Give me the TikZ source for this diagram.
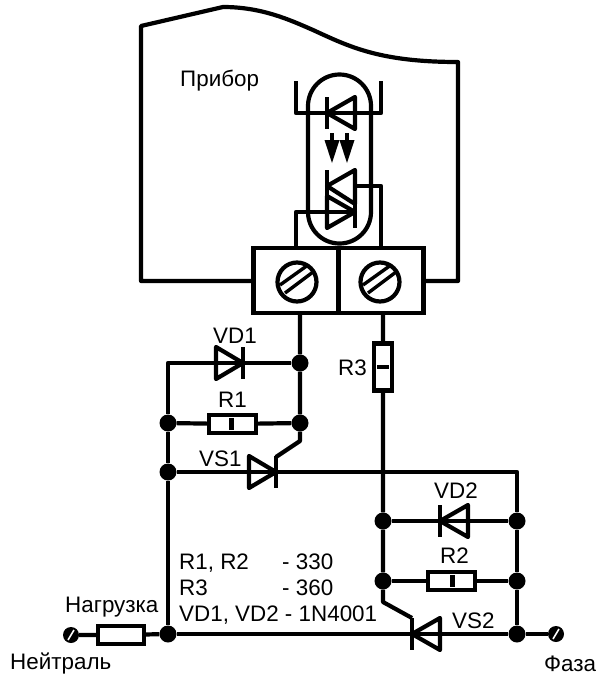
\documentclass[tikz,border=0pt]{standalone}
\usepackage{fontspec}
\setmainfont{Liberation Sans}
\tikzset{
  wire/.style={line width=4.2pt, line join=round},
  dot/.style={circle, fill=black, inner sep=0pt, minimum size=17pt},
  res/.style={draw, line width=4.2pt, rectangle, fill=white, inner sep=0pt, outer sep=0pt},
  screw/.style={draw, line width=4.2pt, circle, inner sep=0pt, outer sep=0pt, minimum size=39pt},
  clamp/.style={draw, line width=4.2pt, rectangle, inner sep=0pt, outer sep=0pt, minimum width=85pt, minimum height=65pt},
  lamp/.style={circle, fill=black, inner sep=0pt, minimum size=16pt},
  lbl/.style={anchor=base west, inner sep=0pt, font=\fontsize{22.4}{26}\selectfont}
}
\begin{document}
\begin{tikzpicture}[x=1pt,y=-1pt]
\useasboundingbox (0,0) rectangle (596,675);
% Define the diode shapes: tip, then bar and triangle
\def\diodeR#1{\draw[wire] #1 ++(0,-16) -- ++(0,32); \draw[wire] #1 -- ++(-27,-16) -- ++(0,32) -- cycle;}
\def\diodeL#1{\draw[wire] #1 ++(0,-16) -- ++(0,32); \draw[wire] #1 -- ++(28,-16) -- ++(0,32) -- cycle;}
% Device outline
\draw[wire] (253,281) -- (141,281) -- (141,26) -- (223,7)
  .. controls (262,7) and (290,20) .. (313,30)
  .. controls (350,47) and (380,62) .. (458,62) -- (458,281) -- (424,281);
% Terminal block
\node[clamp] (tb1) at (296,280.5) {};
\node[clamp] (tb2) at (381,280.5) {};
\node[screw] (s1) at (297,282) {};
\node[screw] (s2) at (380,282) {};
\foreach \s in {s1,s2} {
  \draw[line width=3.4pt] (\s) ++(-17,3) -- ++(28,-20);
  \draw[line width=3.4pt] (\s) ++(-12,11) -- ++(28,-21);
}
% Optocoupler
\draw[wire] (308,106) arc (180:360:31.5) -- (371,212) arc (0:180:31.5) -- cycle;
\draw[wire] (296,81) -- (296,113) -- (381,113) -- (381,81);
\diodeL{(327,113)}
\foreach \x in {332,347} {
  \draw[wire] (\x,133) -- (\x,142);
  \fill (\x-7.5,140) -- (\x+7.5,140) -- (\x,163) -- cycle;
}
\draw[wire] (327,170) -- (327,228);
\draw[wire] (355,170) -- (355,228);
\draw[wire] (327,186) -- (355,170) -- (355,204) -- cycle;
\draw[wire] (355,212) -- (327,196) -- (327,228) -- cycle;
\draw[wire] (355,186) -- (381,186) -- (381,248);
\draw[wire] (355,212) -- (296,212) -- (296,248);
% Junctions
\node[dot] (j1) at (300,363) {};
\node[dot] (j2) at (300,423) {};
\node[dot] (j3) at (168,423) {};
\node[dot] (j4) at (168,472) {};
\node[dot] (j5) at (168,634) {};
\node[dot] (j6) at (383,521) {};
\node[dot] (j7) at (383,581) {};
\node[dot] (j8) at (517,521) {};
\node[dot] (j9) at (517,581) {};
\node[dot] (j10) at (517,634) {};
\node[lamp] (t1) at (71,635) {};
\node[lamp] (t2) at (556,634) {};
\draw[white, line width=1.6pt] (t1) ++(-3,5) -- ++(6,-10);
\draw[white, line width=1.6pt] (t2) ++(-3,5) -- ++(6,-10);
% Resistors
\node[res, minimum width=47pt, minimum height=18pt] (r1) at (232.5,424) {};
\node[res, minimum width=47pt, minimum height=18pt] (r2) at (451.5,581) {};
\node[res, minimum width=18pt, minimum height=47pt] (r3) at (383,367) {};
\node[res, minimum width=46pt, minimum height=18pt] (rn) at (121,635) {};
\draw[line width=4.4pt] (r1) ++(-1,-6) -- ++(0,12);
\draw[line width=4.4pt] (r2) ++(1,-6) -- ++(0,12);
\draw[line width=4.4pt] (r3) ++(-6,0) -- ++(12,0);
% Wiring
\coordinate (c1) at (168,363);
\coordinate (b1) at (300,441);
\coordinate (g1) at (276,457);
\coordinate (b2) at (383,602);
\coordinate (g2) at (412,618);
\coordinate (c2) at (517,472);
\draw[wire] (300,313) -- (j1) -- (j2) -- (b1) -- (g1);
\draw[wire] (j1) -- (c1) -- (j3) -- (j4) -- (j5);
\draw[wire] (j3) -- (r1) -- (j2);
\draw[wire] (j4) -- (c2) -- (j8) -- (j9) -- (j10);
\draw[wire] (383,313) -- (r3) -- (j6) -- (j7) -- (b2) -- (g2);
\draw[wire] (j6) -- (j8);
\draw[wire] (j7) -- (r2) -- (j9);
\draw[wire] (j5) -- (j10);
\draw[wire] (t1) -- (rn) -- (j5);
\draw[wire] (j10) -- (t2);
% Diodes and thyristors
\diodeR{(243,363)}
\diodeR{(276,472)}
\diodeL{(440,521)}
\diodeL{(412,634)}
% Labels
\node[lbl] (device) at (180,86) {Прибор};
\node[lbl] (vd1) at (213,343) {VD1};
\node[lbl] (lr1) at (218,407) {R1};
\node[lbl] (vs1) at (199,466) {VS1};
\node[lbl] (lr3) at (338,375) {R3};
\node[lbl] (vd2) at (434,498) {VD2};
\node[lbl] (lr2) at (440,563) {R2};
\node[lbl] (vs2) at (452,628) {VS2};
\node[lbl] (row1) at (179,569) {R1, R2};
\node[lbl] (val1) at (282,569) {- 330};
\node[lbl] (row2) at (179,595) {R3};
\node[lbl] (val2) at (282,595) {- 360};
\node[lbl] (row3) at (179,621) {VD1, VD2 - 1N4001};
\node[lbl] (load) at (65,612) {Нагрузка};
\node[lbl] (neutral) at (10,669) {Нейтраль};
\node[lbl] (phase) at (544,671) {Фаза};
\end{tikzpicture}
\end{document}
